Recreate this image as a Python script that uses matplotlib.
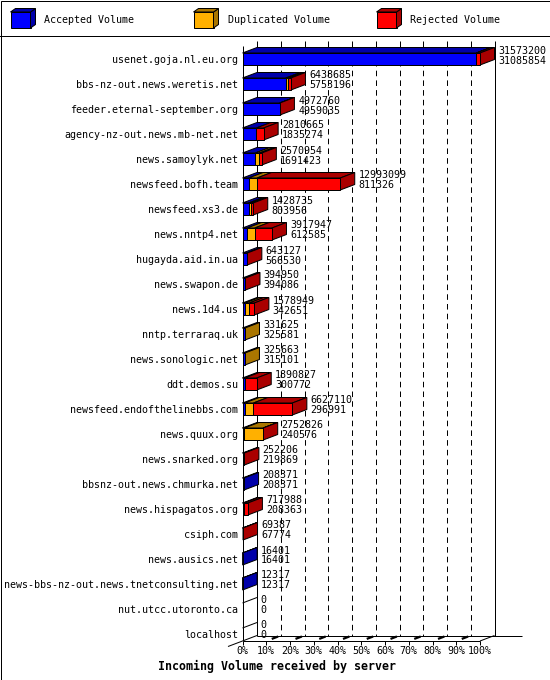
import matplotlib
matplotlib.use("Agg")
import matplotlib.pyplot as plt
from matplotlib.patches import Polygon, Rectangle
import numpy as np

# Datos (volumen entrante por servidor)
servers = ["usenet.goja.nl.eu.org", "bbs-nz-out.news.weretis.net",
           "feeder.eternal-september.org", "agency-nz-out.news.mb-net.net",
           "news.samoylyk.net", "newsfeed.bofh.team", "newsfeed.xs3.de",
           "news.nntp4.net", "hugayda.aid.in.ua", "news.swapon.de",
           "news.1d4.us", "nntp.terraraq.uk", "news.sonologic.net",
           "ddt.demos.su", "newsfeed.endofthelinebbs.com", "news.quux.org",
           "news.snarked.org", "bbsnz-out.news.chmurka.net",
           "news.hispagatos.org", "csiph.com", "news.ausics.net",
           "news-bbs-nz-out.news.tnetconsulting.net", "nut.utcc.utoronto.ca",
           "localhost"]
total = [31573200, 6438685, 4972760, 2810665, 2570954, 12993099, 1428735,
         3917947, 643127, 394950, 1578949, 331625, 325663, 1890827, 6627110,
         2752826, 252206, 208371, 717988, 69387, 16401, 12317, 0, 0]
accepted = [31085854, 5753196, 4959035, 1835274, 1691423, 811326, 803956,
            612585, 566530, 394086, 342651, 325581, 315101, 300772, 296991,
            240576, 219869, 208371, 208363, 67774, 16401, 12317, 0, 0]
duplicated = [10000, 330000, 0, 0, 545000, 1120000, 306000, 1010000, 0, 0,
              535000, 6044, 10562, 0, 1150000, 2507250, 0, 0, 0, 0, 0, 0, 0, 0]
rejected = [477346, 355489, 13725, 975391, 334531, 11061773, 318779, 2295362,
            76597, 864, 701298, 0, 0, 1590055, 5180119, 5000, 32337, 0,
            509625, 1613, 0, 0, 0, 0]

series = ["Accepted Volume", "Duplicated Volume", "Rejected Volume"]
front_col = ["#0000ff", "#ffb000", "#ff0000"]
dark_col = ["#0000aa", "#aa7600", "#aa0000"]
pct_ticks = list(range(0, 101, 10))

W, H = 550, 680
fig = plt.figure(figsize=(W / 100, H / 100), dpi=100)
fig.patch.set_facecolor("white")
mono = "DejaVu Sans Mono"
fs = 7.2
lw = 0.72
plt.rcParams["lines.scale_dashes"] = False

# Geometría (pixeles) del área de barras
x0p, x1p = 242.5, 480.0      # 0% y 100% en el plano frontal
row0, rowstep = 59.0, 25.0   # centro de la primera fila y separación
top_p, floor_p = 46.0, 641.0
pxpct = (x1p - x0p) / 100.0
dx = 14.5 / pxpct            # profundidad en %
dy = 5.5 / rowstep           # profundidad en filas
hh = 6.0 / rowstep           # media altura de barra
yf = (floor_p - row0) / rowstep
yt = (top_p - row0) / rowstep

ax = fig.add_axes([x0p / W, 1 - floor_p / H, (x1p - x0p) / W, (floor_p - top_p) / H])
ax.set_xlim(0, 100)
ax.set_ylim(yf, yt)
for s in ax.spines.values():
    s.set_visible(False)
ax.patch.set_alpha(0)

n = len(servers)
ax.set_yticks(range(n))
ax.set_yticklabels(servers, fontfamily=mono, fontsize=fs)
ax.tick_params(axis="y", length=0, pad=3.3)
ax.set_xticks(pct_ticks)
ax.set_xticklabels([f"{p}%" for p in pct_ticks], fontfamily=mono, fontsize=fs)
ax.tick_params(axis="x", length=3, width=lw, pad=0.8, direction="out")

line_kw = dict(color="black", lw=lw, clip_on=False, solid_capstyle="butt")

# Pared del fondo y rejilla
yb_top = yt - dy
ax.plot([dx, dx], [yb_top, yf - dy], zorder=1, **line_kw)
ax.plot([100 + dx, 100 + dx], [yb_top, yf - dy], zorder=1, **line_kw)
for p in pct_ticks[1:-1]:
    ax.plot([p + dx, p + dx], [yb_top, yf - dy], color="black", lw=lw,
            dashes=(4, 3), clip_on=False, zorder=1)

# Suelo
ax.plot([0, 0], [yt, yf], zorder=1, **line_kw)
ax.plot([0, 100], [yf, yf], zorder=1, **line_kw)
ax.plot([-dx, dx], [yf + dy, yf - dy], zorder=1, **line_kw)
ax.plot([dx, 100 + 2.9 * dx], [yf - dy, yf - dy], zorder=1, **line_kw)
ax.plot([100, 100 + dx], [yf, yf - dy], zorder=1, **line_kw)
for p in pct_ticks[1:-1]:
    ax.plot([p + 0.45 * dx, p + 0.75 * dx], [yf - 0.45 * dy, yf - 0.75 * dy],
            color="black", lw=1.6, clip_on=False, zorder=1)

# Barras 3D apiladas
vmax = max(total)
for i in range(n):
    vals = [accepted[i], duplicated[i], rejected[i]]
    yc = i
    ytop, ybot = yc - hh, yc + hh
    if total[i] == 0:
        ax.plot([0, dx], [ytop, ytop - dy], zorder=3, **line_kw)
        xend = 0
    else:
        start = 0.0
        last = 0
        for k, v in enumerate(vals):
            if v <= 0:
                continue
            w = v / vmax * 100
            ax.add_patch(Rectangle((start, ytop), w, 2 * hh, facecolor=front_col[k],
                                   edgecolor="black", lw=lw, clip_on=False, zorder=4))
            ax.add_patch(Polygon([(start, ytop), (start + w, ytop),
                                  (start + w + dx, ytop - dy), (start + dx, ytop - dy)],
                                 closed=True, facecolor=dark_col[k], edgecolor="black",
                                 lw=lw, clip_on=False, zorder=3))
            start += w
            last = k
        xend = start
        ax.add_patch(Polygon([(xend, ytop), (xend, ybot), (xend + dx, ybot - dy),
                              (xend + dx, ytop - dy)], closed=True,
                             facecolor=dark_col[last], edgecolor="black", lw=lw,
                             clip_on=False, zorder=3))
    tx = xend + dx + 1.6
    ax.text(tx, yc - 0.34, str(total[i]), fontfamily=mono, fontsize=fs,
            ha="left", va="center", zorder=5, clip_on=False)
    ax.text(tx, yc + 0.06, str(accepted[i]), fontfamily=mono, fontsize=fs,
            ha="left", va="center", zorder=5, clip_on=False)

fig.text(277.5 / W, 1 - 666 / H, "Incoming Volume received by server",
         fontfamily=mono, fontsize=8.4, fontweight="bold", ha="center", va="center")

# Leyenda
lax = fig.add_axes([0, 1 - 36 / H, 1, 36 / H])
lax.set_xlim(0, W)
lax.set_ylim(36, 0)
lax.axis("off")
for k, name in enumerate(series):
    bx = 10.5 + 183 * k
    lax.add_patch(Rectangle((bx, 12), 20, 16, facecolor=front_col[k],
                            edgecolor="black", lw=lw))
    lax.add_patch(Polygon([(bx + 20, 12), (bx + 20, 28), (bx + 25, 24.5), (bx + 25, 8.5)],
                          closed=True, facecolor=dark_col[k], edgecolor="black", lw=lw))
    lax.add_patch(Polygon([(bx, 12), (bx + 20, 12), (bx + 25, 8.5), (bx + 5, 8.5)],
                          closed=True, facecolor=dark_col[k], edgecolor="black", lw=lw))
    lax.text(bx + 34, 20, name, fontfamily=mono, fontsize=fs, ha="left", va="center")

# Marco exterior y separador de la leyenda
fig.add_artist(plt.Line2D([0, 1], [1 - 35.5 / H, 1 - 35.5 / H], color="black",
                          lw=lw, transform=fig.transFigure))
fig.add_artist(Rectangle((0.5 / W, 0.5 / H), (W - 1) / W, (H - 1) / H, fill=False,
                         edgecolor="black", lw=lw, transform=fig.transFigure))

fig.savefig("out.png", dpi=100, facecolor="white")
